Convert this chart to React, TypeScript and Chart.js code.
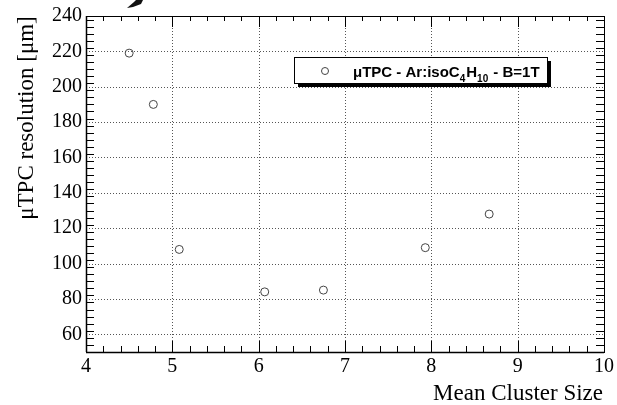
import React, { useEffect, useRef } from "react";
import { Chart, registerables } from "chart.js";

Chart.register(...registerables);

const meanClusterSize = [4.5, 4.78, 5.08, 6.07, 6.75, 7.93, 8.67];
const resolutionUm = [219, 190, 108, 84, 85, 109, 128];
const xTickValues = [4, 5, 6, 7, 8, 9, 10];
const yTickValues = [60, 80, 100, 120, 140, 160, 180, 200, 220, 240];
const seriesLabel = "μTPC - Ar:isoC4H10 - B=1T";
const xTitle = "Mean Cluster Size";
const yTitle = "μTPC resolution [μm]";

const SERIF = "'Liberation Serif', 'DejaVu Serif', serif";
const SANS = "'Liberation Sans', Arial, sans-serif";

const framePlugin = {
  id: "rootFrame",
  beforeDatasetsDraw(chart: any) {
    const { ctx, chartArea: a, scales } = chart;
    const xs = scales.x;
    const ys = scales.y;
    ctx.save();
    ctx.strokeStyle = "#555";
    ctx.lineWidth = 1;
    ctx.setLineDash([1, 2]);
    for (const v of xTickValues) {
      if (v <= xs.min || v >= xs.max) continue;
      const px = Math.round(xs.getPixelForValue(v)) + 0.5;
      ctx.beginPath();
      ctx.moveTo(px, a.top);
      ctx.lineTo(px, a.bottom);
      ctx.stroke();
    }
    for (const v of yTickValues) {
      if (v <= ys.min || v >= ys.max) continue;
      const py = Math.round(ys.getPixelForValue(v)) + 0.5;
      ctx.beginPath();
      ctx.moveTo(a.left, py);
      ctx.lineTo(a.right, py);
      ctx.stroke();
    }
    ctx.restore();
  },
  afterDraw(chart: any) {
    const { ctx, chartArea: a, scales } = chart;
    const xs = scales.x;
    const ys = scales.y;
    ctx.save();
    ctx.strokeStyle = "#000";
    ctx.lineWidth = 1;
    ctx.setLineDash([]);
    // frame
    ctx.strokeRect(a.left + 0.5, a.top + 0.5, a.right - a.left, a.bottom - a.top);
    ctx.lineWidth = 1.5;
    ctx.beginPath();
    ctx.moveTo(a.left, a.bottom + 0.5);
    ctx.lineTo(a.right, a.bottom + 0.5);
    ctx.moveTo(a.left + 0.5, a.top);
    ctx.lineTo(a.left + 0.5, a.bottom);
    ctx.stroke();
    ctx.lineWidth = 1;
    // x ticks (major + minor), bottom and top
    for (let i = 0; i <= 30; i++) {
      const v = xs.min + i * 0.2;
      const px = Math.round(xs.getPixelForValue(v)) + 0.5;
      const major = i % 5 === 0;
      const lb = major ? 11 : 6;
      const lt = major ? 11 : 5;
      ctx.beginPath();
      ctx.moveTo(px, a.bottom);
      ctx.lineTo(px, a.bottom - lb);
      ctx.moveTo(px, a.top);
      ctx.lineTo(px, a.top + lt);
      ctx.stroke();
    }
    // y ticks (major + minor), left and right
    for (let v = ys.min; v <= ys.max + 0.01; v += 4) {
      const py = Math.round(ys.getPixelForValue(v)) + 0.5;
      const major = Math.abs(v % 20) < 0.01;
      const ll = major ? 15 : 8;
      ctx.beginPath();
      ctx.moveTo(a.left, py);
      ctx.lineTo(a.left + ll, py);
      ctx.moveTo(a.right, py);
      ctx.lineTo(a.right - ll, py);
      ctx.stroke();
    }

    // axis titles
    ctx.fillStyle = "#000";
    ctx.font = `23px ${SERIF}`;
    ctx.textAlign = "right";
    ctx.textBaseline = "alphabetic";
    ctx.fillText(xTitle, a.right - 1, 400);
    ctx.save();
    ctx.translate(33, 118);
    ctx.rotate(-Math.PI / 2);
    ctx.textAlign = "center";
    ctx.fillText(yTitle, 0, 0);
    ctx.restore();

    // legend box with shadow
    const bx = 294, by = 57, bw = 253, bh = 26;
    ctx.fillStyle = "#000";
    ctx.fillRect(bx + 4, by + 4, bw, bh);
    ctx.fillStyle = "#fff";
    ctx.fillRect(bx, by, bw, bh);
    ctx.strokeStyle = "#000";
    ctx.lineWidth = 1;
    ctx.strokeRect(bx + 0.5, by + 0.5, bw, bh);
    // marker
    ctx.beginPath();
    ctx.arc(325, by + bh / 2 + 1, 3.5, 0, Math.PI * 2);
    ctx.strokeStyle = "#444";
    ctx.stroke();
    // label with subscripts
    const m = seriesLabel.match(/^(.*C)(4)(H)(10)(.*)$/);
    const parts: [string, boolean][] = m
      ? [[m[1], false], [m[2], true], [m[3], false], [m[4], true], [m[5], false]]
      : [[seriesLabel, false]];
    let tx = 353;
    const base = 77;
    ctx.fillStyle = "#000";
    ctx.textAlign = "left";
    for (const [t, sub] of parts) {
      ctx.font = sub ? `bold 10px ${SANS}` : `bold 15px ${SANS}`;
      ctx.fillText(t, tx, sub ? base + 5 : base);
      tx += ctx.measureText(t).width + (sub ? 1 : 0);
    }

    // small dark mark at top edge
    ctx.beginPath();
    ctx.moveTo(127, 8);
    ctx.lineTo(134, 2);
    ctx.lineTo(136, 0);
    ctx.lineTo(143, 0);
    ctx.lineTo(141, 4);
    ctx.lineTo(133, 7);
    ctx.closePath();
    ctx.fillStyle = "#111";
    ctx.fill();
    ctx.restore();
  },
};

export default function App() {
  const ref = useRef<HTMLCanvasElement | null>(null);
  useEffect(() => {
    if (!ref.current) return;
    const chart = new Chart(ref.current, {
      type: "scatter",
      data: {
        datasets: [
          {
            label: seriesLabel,
            data: meanClusterSize.map((x, i) => ({ x, y: resolutionUm[i] })),
            pointStyle: "circle",
            pointRadius: 4,
            pointBorderWidth: 1,
            pointBorderColor: "#444",
            pointBackgroundColor: "rgba(255,255,255,0)",
            showLine: false,
          },
        ],
      },
      options: {
        responsive: false,
        animation: false,
        devicePixelRatio: 1,
        layout: { padding: { top: 15, right: 9, left: 0, bottom: 0 } },
        plugins: { legend: { display: false }, tooltip: { enabled: false } },
        scales: {
          x: {
            type: "linear",
            min: 4,
            max: 10,
            afterBuildTicks: (s: any) => {
              s.ticks = xTickValues.map((v) => ({ value: v }));
            },
            afterFit: (s: any) => {
              s.height = 53;
            },
            grid: { display: false, drawTicks: false },
            border: { display: false },
            ticks: {
              color: "#000",
              font: { family: SERIF, size: 20 },
              padding: 3,
              maxRotation: 0,
              autoSkip: false,
            },
          },
          y: {
            type: "linear",
            min: 50,
            max: 240,
            afterBuildTicks: (s: any) => {
              s.ticks = yTickValues.map((v) => ({ value: v }));
            },
            afterFit: (s: any) => {
              s.width = 86;
            },
            grid: { display: false, drawTicks: false },
            border: { display: false },
            ticks: {
              color: "#000",
              font: { family: SERIF, size: 20 },
              padding: 4,
              autoSkip: false,
            },
          },
        },
      },
      plugins: [framePlugin],
    } as any);
    return () => chart.destroy();
  }, []);
  return (
    <div style={{ position: "fixed", left: 0, top: 0, width: 617, height: 405, background: "#fff" }}>
      <canvas ref={ref} width={617} height={405} style={{ display: "block" }} />
    </div>
  );
}
